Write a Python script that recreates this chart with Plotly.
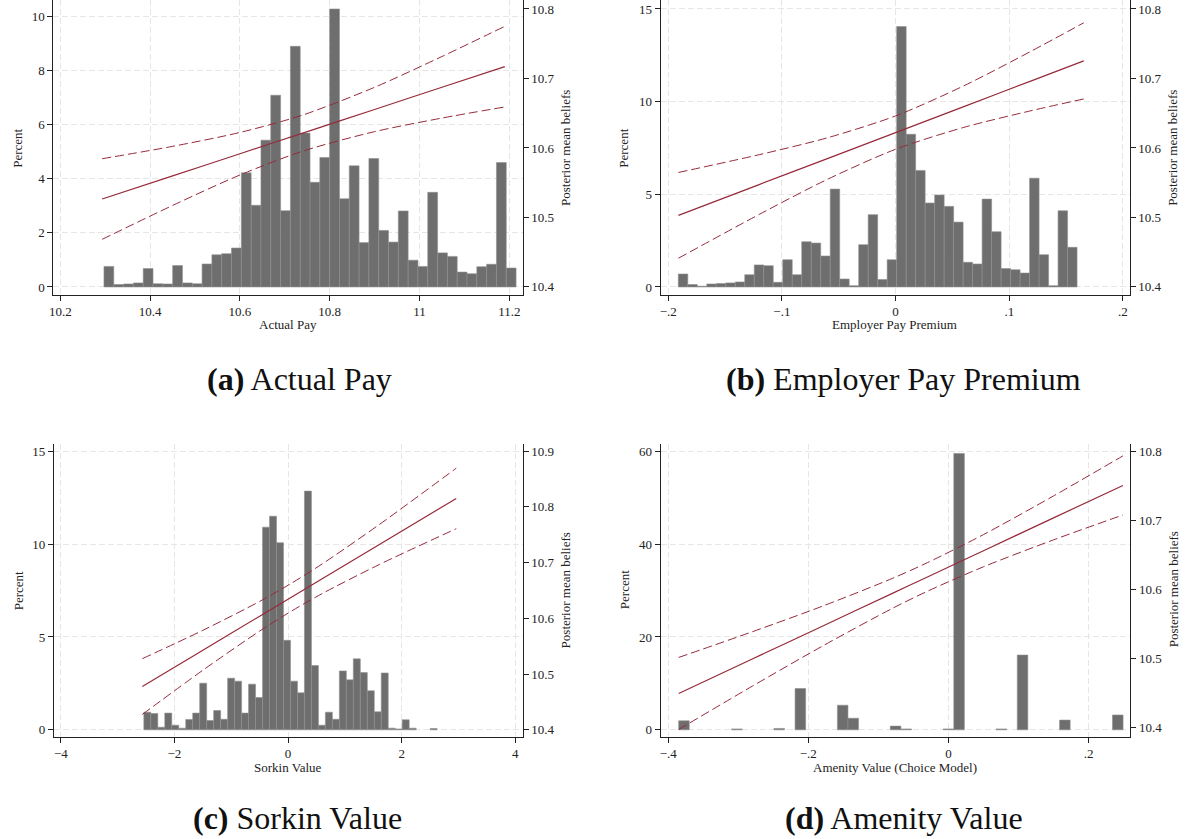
import plotly.graph_objects as go

# ---------------- data ----------------
# (a) Actual Pay histogram (percent per bin)
a_bin_start = 10.297
a_bin_width = 0.02186
a_pct = [0.76, 0.09, 0.11, 0.15, 0.68, 0.12, 0.11, 0.79, 0.15, 0.12,
         0.85, 1.19, 1.23, 1.44, 4.22, 3.02, 5.43, 7.09, 2.82, 8.90,
         5.69, 3.87, 4.79, 10.28, 3.26, 4.48, 1.64, 4.75, 2.09, 1.66,
         2.81, 0.99, 0.76, 3.50, 1.26, 1.13, 0.55, 0.49, 0.75, 0.84,
         4.60, 0.70]
a_line_x = [10.293, 10.45, 10.6, 10.74, 10.9, 11.05, 11.19]
a_fit = [10.5265, 10.5598, 10.5917, 10.6214, 10.6554, 10.6873, 10.717]
a_upper = [10.5845, 10.6023, 10.6223, 10.6474, 10.6873, 10.7316, 10.775]
a_lower = [10.4685, 10.5173, 10.5611, 10.5954, 10.6235, 10.6430, 10.659]
a_xticks = [10.2, 10.4, 10.6, 10.8, 11.0, 11.2]
a_xlabels = ["10.2", "10.4", "10.6", "10.8", "11", "11.2"]
a_yticks = [0, 2, 4, 6, 8, 10]
a_y2ticks = [10.4, 10.5, 10.6, 10.7, 10.8]

# (b) Employer Pay Premium
b_bin_start = -0.1911
b_bin_width = 0.00835
b_pct = [0.70, 0.13, 0.04, 0.16, 0.18, 0.22, 0.27, 0.66, 1.19, 1.15,
         0.25, 1.47, 0.66, 2.44, 2.37, 1.67, 5.28, 0.43, 0.07, 2.28,
         3.90, 0.40, 1.47, 14.05, 8.24, 6.29, 4.53, 4.96, 4.35, 3.50,
         1.33, 1.24, 4.74, 2.98, 0.99, 0.93, 0.75, 5.87, 1.74, 0.07,
         4.11, 2.14]
b_line_x = [-0.191, -0.12, -0.06, 0.0, 0.06, 0.12, 0.1655]
b_fit = [10.503, 10.5473, 10.5847, 10.6221, 10.6595, 10.6969, 10.7253]
b_upper = [10.5647, 10.5903, 10.6146, 10.6461, 10.6894, 10.7399, 10.7801]
b_lower = [10.4413, 10.5043, 10.5548, 10.5981, 10.6296, 10.6539, 10.6705]
b_xticks = [-0.2, -0.1, 0.0, 0.1, 0.2]
b_xlabels = ["\u2212.2", "\u2212.1", "0", ".1", ".2"]
b_yticks = [0, 5, 10, 15]
b_y2ticks = [10.4, 10.5, 10.6, 10.7, 10.8]

# (c) Sorkin Value
c_bin_start = -2.539
c_bin_width = 0.1229
c_pct = [0.95, 0.88, 0.14, 0.90, 0.25, 0.09, 0.56, 0.90, 2.51, 0.50,
         1.04, 0.57, 2.78, 2.62, 0.90, 2.46, 1.74, 10.91, 11.50, 10.07,
         4.82, 2.62, 1.99, 12.85, 3.46, 0.25, 0.95, 0.57, 3.17, 2.69,
         3.82, 3.08, 2.10, 0.97, 3.06, 0.09, 0.05, 0.54, 0.09, 0.0,
         0.0, 0.07]
c_line_x = [-2.566, -1.5, -0.5, 0.05, 0.6, 1.6, 2.96]
c_fit = [10.4777, 10.5428, 10.6039, 10.6375, 10.6711, 10.7322, 10.8152]
c_upper = [10.5277, 10.5786, 10.6305, 10.6625, 10.6977, 10.7680, 10.8695]
c_lower = [10.4277, 10.5070, 10.5773, 10.6125, 10.6445, 10.6964, 10.7609]
c_xticks = [-4, -2, 0, 2, 4]
c_xlabels = ["\u22124", "\u22122", "0", "2", "4"]
c_yticks = [0, 5, 10, 15]
c_y2ticks = [10.4, 10.5, 10.6, 10.7, 10.8, 10.9]

# (d) Amenity Value (Choice Model)
d_bin_start = -0.385
d_bin_width = 0.0151
d_pct = [1.94, 0, 0, 0, 0, 0.2, 0, 0, 0, 0.3,
         0, 8.9, 0, 0, 0, 5.3, 2.5, 0, 0, 0,
         0.8, 0.2, 0, 0, 0, 0.2, 59.5, 0, 0, 0,
         0.2, 0, 16.1, 0, 0, 0, 2.1, 0, 0, 0,
         0, 3.2]
d_line_x = [-0.385, -0.28, -0.18, -0.08, -0.03, 0.05, 0.15, 0.249]
d_fit = [10.4492, 10.4991, 10.5466, 10.5941, 10.6179, 10.6559, 10.7034, 10.7504]
d_upper = [10.5013, 10.5385, 10.5755, 10.6158, 10.6386, 10.6792, 10.7352, 10.7932]
d_lower = [10.3971, 10.4597, 10.5177, 10.5724, 10.5972, 10.6326, 10.6716, 10.7076]
d_xticks = [-0.4, -0.2, 0.0, 0.2]
d_xlabels = ["\u2212.4", "\u2212.2", "0", ".2"]
d_yticks = [0, 20, 40, 60]
d_y2ticks = [10.4, 10.5, 10.6, 10.7, 10.8]

x_titles = ["Actual Pay", "Employer Pay Premium", "Sorkin Value", "Amenity Value (Choice Model)"]
captions = ["(a)", "(b)", "(c)", "(d)"]
caption_texts = ["Actual Pay", "Employer Pay Premium", "Sorkin Value", "Amenity Value"]
y_title = "Percent"
y2_title = "Posterior mean beliefs"

# ---------------- layout geometry ----------------
W, H = 1188, 839
FONT = "Liberation Serif"
TXT = "#222222"
BAR_FILL = "#6e6e6e"
BAR_EDGE = "#8e8e8e"
LINE_COL = "#962a3a"
GRID_COL = "#e6e6e6"

panels = [
    dict(pct=a_pct, start=a_bin_start, width=a_bin_width, lx=a_line_x, fit=a_fit, up=a_upper, lo=a_lower,
         xt=a_xticks, xl=a_xlabels, yt=a_yticks, y2t=a_y2ticks,
         xdom=[49.5, 520.5], ydom=[0, 295], xr=[10.1842, 11.230], yr=[-0.284, 10.613], y2r=[10.3889, 10.8129],
         ytl=(14, 148), y2tl=(564, 148), xtl=(285, 325), cap=(296, 379)),
    dict(pct=b_pct, start=b_bin_start, width=b_bin_width, lx=b_line_x, fit=b_fit, up=b_upper, lo=b_lower,
         xt=b_xticks, xl=b_xlabels, yt=b_yticks, y2t=b_y2ticks,
         xdom=[658.9, 1129.5], ydom=[0, 295], xr=[-0.2066, 0.2059], yr=[-0.415, 15.485], y2r=[10.3889, 10.8129],
         ytl=(622, 148), y2tl=(1173, 148), xtl=(894, 325), cap=(903, 379)),
    dict(pct=c_pct, start=c_bin_start, width=c_bin_width, lx=c_line_x, fit=c_fit, up=c_upper, lo=c_lower,
         xt=c_xticks, xl=c_xlabels, yt=c_yticks, y2t=c_y2ticks,
         xdom=[49.9, 520.5], ydom=[444.3, 737.7], xr=[-4.125, 4.13], yr=[-0.376, 15.398], y2r=[10.3875, 10.9133],
         ytl=(14, 591), y2tl=(563, 591), xtl=(285, 768), cap=(294, 819)),
    dict(pct=d_pct, start=d_bin_start, width=d_bin_width, lx=d_line_x, fit=d_fit, up=d_upper, lo=d_lower,
         xt=d_xticks, xl=d_xlabels, yt=d_yticks, y2t=d_y2ticks,
         xdom=[658.9, 1130.3], ydom=[444.3, 737.7], xr=[-0.4107, 0.2598], yr=[-1.505, 61.59], y2r=[10.3864, 10.8107],
         ytl=(622, 590), y2tl=(1173, 590), xtl=(894, 768), cap=(903, 819)),
]

fig = go.Figure()
layout = dict(
    width=W, height=H,
    margin=dict(l=0, r=0, t=0, b=0),
    paper_bgcolor="white", plot_bgcolor="white",
    showlegend=False, bargap=0,
    font=dict(family=FONT, size=13, color=TXT),
)
annotations = []

for i, p in enumerate(panels, start=1):
    xa = "x" if i == 1 else f"x{i}"
    ya = "y" if i == 1 else f"y{i}"
    ya2 = f"y{i + 4}"
    n = len(p["pct"])
    centers = [p["start"] + p["width"] * (k + 0.5) for k in range(n)]
    vals = [v if v > 0 else None for v in p["pct"]]
    fig.add_trace(go.Bar(
        x=centers, y=vals, width=[p["width"]] * n, xaxis=xa, yaxis=ya,
        marker=dict(color=BAR_FILL, line=dict(color=BAR_EDGE, width=0.6)),
        hoverinfo="skip"))
    for series, dash, wdt in ((p["up"], "9px,4px", 1.0), (p["lo"], "9px,4px", 1.0), (p["fit"], "solid", 1.2)):
        fig.add_trace(go.Scatter(
            x=p["lx"], y=series, xaxis=xa, yaxis=ya2, mode="lines",
            line=dict(color=LINE_COL, width=wdt, dash=dash, shape="spline", smoothing=0.8),
            hoverinfo="skip"))

    xdom = [p["xdom"][0] / W, p["xdom"][1] / W]
    ydom = [1 - p["ydom"][1] / H, 1 - p["ydom"][0] / H]
    xkey = "xaxis" if i == 1 else f"xaxis{i}"
    ykey = "yaxis" if i == 1 else f"yaxis{i}"
    y2key = f"yaxis{i + 4}"
    layout[xkey] = dict(
        domain=xdom, anchor=ya, range=p["xr"], tickvals=p["xt"], ticktext=p["xl"],
        showline=True, linecolor=TXT, linewidth=1, ticks="outside", ticklen=5, tickwidth=1,
        tickcolor=TXT, showgrid=True, gridcolor=GRID_COL, gridwidth=1, griddash="6px,3px",
        zeroline=False, tickfont=dict(family=FONT, size=13, color=TXT), fixedrange=True)
    layout[ykey] = dict(
        domain=ydom, anchor=xa, range=p["yr"], tickvals=p["yt"],
        showline=True, linecolor=TXT, linewidth=1, ticks="outside", ticklen=5, tickwidth=1,
        tickcolor=TXT, showgrid=True, gridcolor=GRID_COL, gridwidth=1, griddash="6px,3px",
        zeroline=False, tickfont=dict(family=FONT, size=13, color=TXT), fixedrange=True)
    layout[y2key] = dict(
        overlaying=ya, anchor=xa, side="right", range=p["y2r"], tickvals=p["y2t"],
        ticktext=[f"{v:.1f}" for v in p["y2t"]],
        showline=True, linecolor=TXT, linewidth=1, ticks="outside", ticklen=5, tickwidth=1,
        tickcolor=TXT, showgrid=False, zeroline=False,
        tickfont=dict(family=FONT, size=13, color=TXT), fixedrange=True)

    annotations.append(dict(text=y_title, x=p["ytl"][0] / W, y=1 - p["ytl"][1] / H, xref="paper", yref="paper",
                            textangle=-90, showarrow=False, xanchor="center", yanchor="middle",
                            font=dict(family=FONT, size=13, color=TXT)))
    annotations.append(dict(text=y2_title, x=p["y2tl"][0] / W, y=1 - p["y2tl"][1] / H, xref="paper", yref="paper",
                            textangle=-90, showarrow=False, xanchor="center", yanchor="middle",
                            font=dict(family=FONT, size=13, color=TXT)))
    annotations.append(dict(text=x_titles[i - 1], x=p["xtl"][0] / W, y=1 - p["xtl"][1] / H, xref="paper", yref="paper",
                            showarrow=False, xanchor="center", yanchor="middle",
                            font=dict(family=FONT, size=13, color=TXT)))
    annotations.append(dict(text=f"<b>{captions[i - 1]}</b> {caption_texts[i - 1]}",
                            x=p["cap"][0] / W, y=1 - p["cap"][1] / H, xref="paper", yref="paper",
                            showarrow=False, xanchor="center", yanchor="middle",
                            font=dict(family=FONT, size=32, color="#111111")))

layout["annotations"] = annotations
fig.update_layout(**layout)
fig.write_html(
    "out.html",
    config={"displayModeBar": False, "staticPlot": True},
    post_script=("document.body.style.margin='0px';"
                 "document.body.style.overflow='hidden';"
                 "document.documentElement.style.overflow='hidden';"),
)
